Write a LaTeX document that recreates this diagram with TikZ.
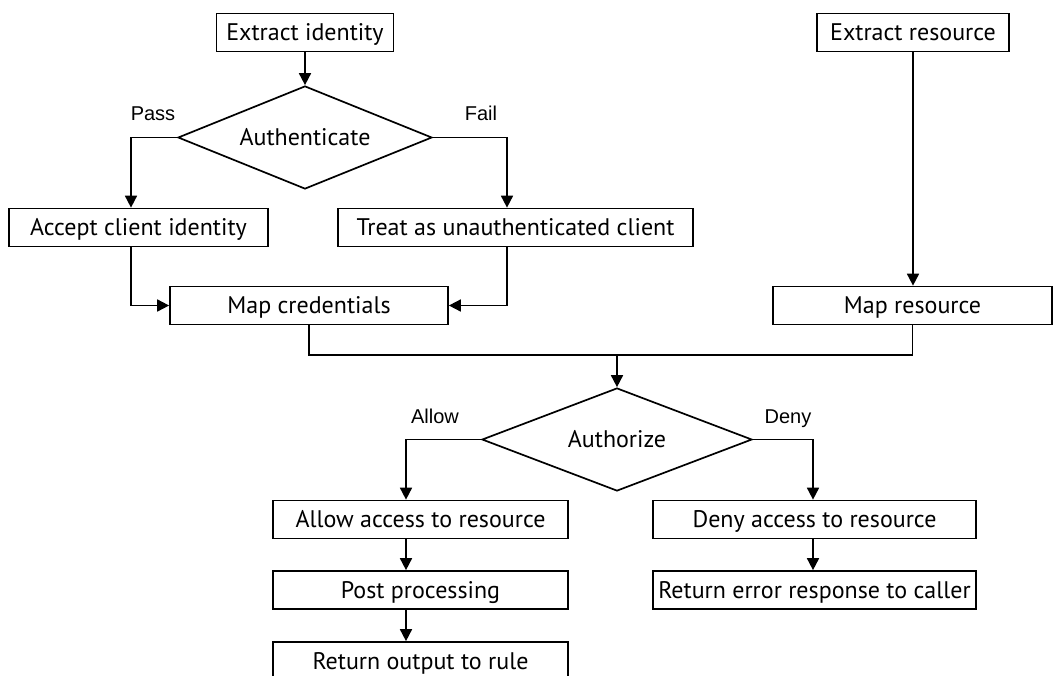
\documentclass[tikz,border=0pt]{standalone}
\usepackage{fontspec}
\setmainfont{PT Sans}
\newfontfamily\labelfont{Liberation Sans}
\usetikzlibrary{arrows.meta,shapes.geometric}
\begin{document}
\begin{tikzpicture}[x=1pt,y=-1pt,
  line width=1.7pt,
  flow/.style={-{Triangle[width=12pt,length=12pt]}},
  box/.style={draw,rectangle,inner sep=0pt,minimum height=38pt,
    text height=19pt,text depth=3pt,font=\fontsize{24}{28}\selectfont},
  decision/.style={draw,diamond,aspect=2.5,inner sep=0pt,font=\fontsize{24}{28}\selectfont},
  branch/.style={anchor=base,font=\labelfont\fontsize{20}{24}\selectfont}]
\useasboundingbox (0,0) rectangle (1054,675);

% identity branch
\node[box,minimum width=177pt] (ei) at (305,32.5) {Extract identity};
\node[decision,minimum width=254pt,minimum height=103pt] (auth) at (305,137.5) {Authenticate};
\node[box,minimum width=259pt] (acc) at (138.5,227.5) {Accept client identity};
\node[box,minimum width=355pt] (treat) at (515.5,227.5) {Treat as unauthenticated client};
\node[box,minimum width=278pt] (mapc) at (309,305.5) {Map credentials};

% resource branch
\node[box,minimum width=192pt] (er) at (913,32.5) {Extract resource};
\node[box,minimum width=279pt] (mapr) at (912.5,305.5) {Map resource};

% authorization
\node[decision,minimum width=270pt,minimum height=103pt] (authz) at (617,439.5) {Authorize};
\node[box,minimum width=295pt] (allow) at (420.5,519.5) {Allow access to resource};
\node[box,minimum width=295pt] (post) at (420.5,590) {Post processing};
\node[box,minimum width=295pt] (ret) at (420.5,661) {Return output to rule};
\node[box,minimum width=323pt] (deny) at (814.5,519.5) {Deny access to resource};
\node[box,minimum width=323pt] (err) at (814.5,590) {Return error response to caller};

% branch labels
\node[branch] (lpass) at (153,120) {Pass};
\node[branch] (lfail) at (481,120) {Fail};
\node[branch] (lallow) at (435,423) {Allow};
\node[branch] (ldeny) at (788,423) {Deny};

% connectors
\draw[flow] (ei) -- (auth);
\draw[flow] (auth.west) -| ([xshift=-7.5pt]acc.north);
\draw[flow] (auth.east) -| ([xshift=-8.5pt]treat.north);
\draw[flow] ([xshift=-7.5pt]acc.south) |- (mapc.west);
\draw[flow] ([xshift=-8.5pt]treat.south) |- (mapc.east);
\draw[flow] (er.south) -- (er.south |- mapr.north);

\coordinate (merge) at (authz.north |- 0,355);
\draw (mapc.south) |- (merge) -| (mapr.south);
\draw[flow] (merge) -- (authz.north);

\draw[flow] (authz.west) -| ([xshift=-14.5pt]allow.north);
\draw[flow] (authz.east) -| ([xshift=-1.5pt]deny.north);
\draw[flow] ([xshift=-14.5pt]allow.south) -- ([xshift=-14.5pt]post.north);
\draw[flow] ([xshift=-14.5pt]post.south) -- ([xshift=-14.5pt]ret.north);
\draw[flow] ([xshift=-1.5pt]deny.south) -- ([xshift=-1.5pt]err.north);
\end{tikzpicture}
\end{document}
